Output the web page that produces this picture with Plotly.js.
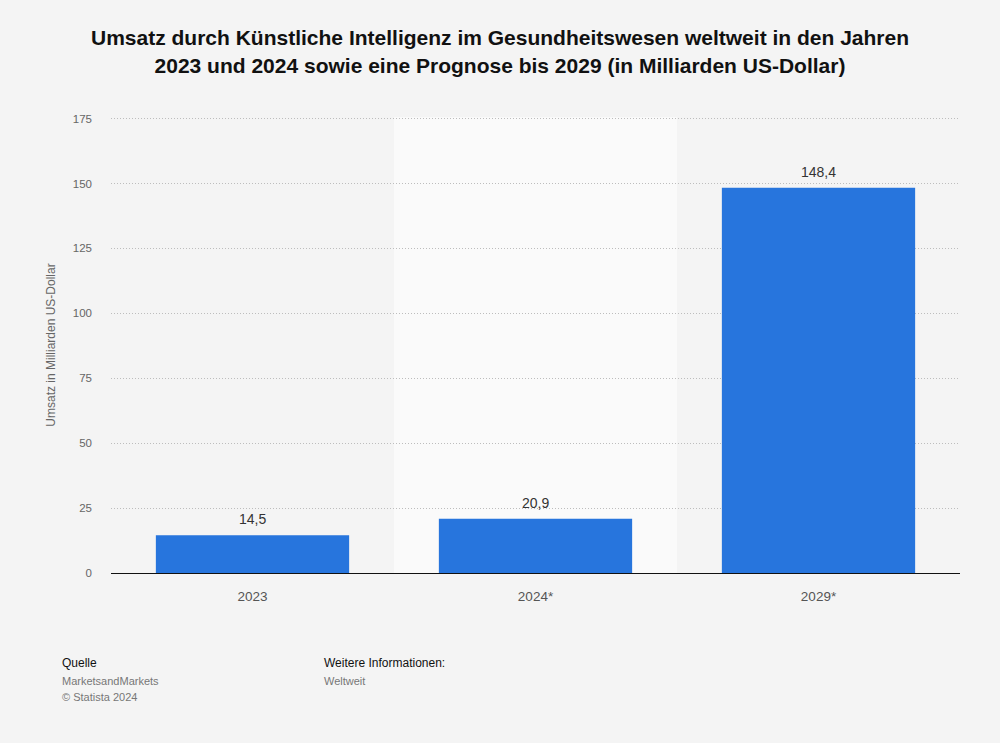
<!DOCTYPE html>
<html>
<head>
<meta charset="utf-8">
<script src="https://cdn.plot.ly/plotly-3.0.1.min.js"></script>
<style>html,body{margin:0;padding:0;background:#f4f4f4;}#chart{width:1000px;height:743px;}</style>
</head>
<body>
<div id="chart"></div>
<script>
const categories = ["2023", "2024*", "2029*"];
const values = [14.5, 20.9, 148.4];
const yTicks = [0, 25, 50, 75, 100, 125, 150, 175];

const FONT = 'Liberation Sans, Arial, Helvetica, sans-serif';

const trace = {
  type: 'bar',
  x: categories,
  y: values,
  marker: {color: '#2775dd'},
  width: 0.683,
  hoverinfo: 'none'
};

const fmt = v => v.toFixed(1).replace('.', ',');

// value labels placed at each bar (category index, value) through the axes
const valueLabels = values.map((v, i) => ({
  xref: 'x', yref: 'y', x: i, y: v,
  text: fmt(v), showarrow: false,
  xanchor: 'center', yanchor: 'bottom', yshift: 6,
  font: {family: FONT, size: 14, color: '#333'}
}));

const footer = [
  {text: 'Quelle', x: -0.06, y: -0.197, size: 12, color: '#111'},
  {text: 'MarketsandMarkets', x: -0.06, y: -0.2365, size: 11, color: '#777'},
  {text: '© Statista 2024', x: -0.06, y: -0.2715, size: 11, color: '#777'},
  {text: 'Weitere Informationen:', x: 0.2485, y: -0.197, size: 12, color: '#111'},
  {text: 'Weltweit', x: 0.2485, y: -0.2365, size: 11, color: '#777'}
].map(f => ({
  text: f.text, xref: 'paper', yref: 'paper', x: f.x, y: f.y,
  xanchor: 'left', yanchor: 'middle', showarrow: false,
  font: {family: FONT, size: f.size, color: f.color}
}));

const layout = {
  width: 1000, height: 743,
  paper_bgcolor: '#f4f4f4',
  plot_bgcolor: '#f4f4f4',
  separators: ',.',
  margin: {l: 111, r: 40, t: 117, b: 170},
  showlegend: false,
  title: {
    text: 'Umsatz durch Künstliche Intelligenz im Gesundheitswesen weltweit in den Jahren<br>2023 und 2024 sowie eine Prognose bis 2029 (in Milliarden US-Dollar)',
    font: {family: FONT, size: 21, color: '#111', weight: 'bold'},
    x: 0.5, xanchor: 'center', y: 0.939, yanchor: 'top'
  },
  xaxis: {
    type: 'category',
    range: [-0.5, 2.5],
    showgrid: false,
    showline: true, linecolor: '#111', linewidth: 1.3,
    ticks: '', ticklabelstandoff: 10,
    tickfont: {family: FONT, size: 13.5, color: '#555'},
    fixedrange: true
  },
  yaxis: {
    range: [0, 175.6],
    tickvals: yTicks,
    ticktext: yTicks.map(String),
    showgrid: true, gridcolor: '#bdbdbd', griddash: '1px,2px', gridwidth: 1,
    zeroline: false,
    showline: false,
    ticks: '', ticklabelstandoff: 18,
    tickfont: {family: FONT, size: 11.5, color: '#666'},
    title: {text: 'Umsatz in Milliarden US-Dollar', font: {family: FONT, size: 12, color: '#666'}, standoff: 14},
    fixedrange: true
  },
  shapes: [{
    type: 'rect', xref: 'x', yref: 'paper', x0: 0.5, x1: 1.5, y0: 0, y1: 1,
    fillcolor: '#fafafa', line: {width: 0}, layer: 'below'
  }],
  annotations: valueLabels.concat(footer)
};

Plotly.newPlot('chart', [trace], layout, {displayModeBar: false, staticPlot: true});
</script>
</body>
</html>
